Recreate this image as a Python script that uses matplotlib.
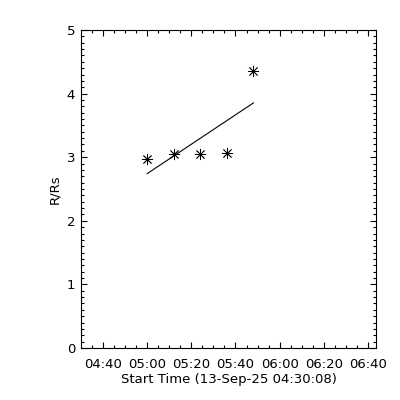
import datetime
import matplotlib
matplotlib.use('Agg')
import matplotlib.pyplot as plt
import matplotlib.dates as mdates
import numpy as np

# data
start = datetime.datetime(2025, 9, 13, 4, 30, 8)
times = ['05:00:08', '05:12:08', '05:24:08', '05:36:08', '05:48:08']
r_rs = [2.97, 3.05, 3.05, 3.07, 4.35]
x_end = '06:43:40'

def to_dt(s):
    hh, mm, ss = s.split(':')
    return start.replace(hour=int(hh), minute=int(mm), second=int(ss))

x = [to_dt(t) for t in times]
xn = mdates.date2num(x)

# linear fit like the original
p = np.polyfit(xn, r_rs, 1)
xfit = np.array([xn[0], xn[-1]])
yfit = np.polyval(p, xfit)

plt.rcParams['font.family'] = 'DejaVu Sans'

fig = plt.figure(figsize=(4, 4), dpi=100)
ax = fig.add_axes([0.202, 0.13, 0.739, 0.795])

ax.plot(x, r_rs, linestyle='none', marker=(8, 2, 0), markersize=8,
        color='black', markeredgewidth=0.6)
ax.plot(mdates.num2date(xfit), yfit, color='black', linewidth=0.8)

ax.set_xlim(start, to_dt(x_end))
ax.set_ylim(0, 5)

ax.xaxis.set_major_locator(mdates.MinuteLocator(byminute=[0, 20, 40]))
ax.xaxis.set_minor_locator(mdates.MinuteLocator(byminute=range(0, 60, 5)))
ax.xaxis.set_major_formatter(mdates.DateFormatter('%H:%M'))
ax.set_yticks(np.arange(0, 6, 1))
ax.set_yticks(np.arange(0, 5.01, 0.1), minor=True)

ax.tick_params(which='both', direction='in', top=True, right=True,
               width=0.8, labelsize=9.5)
ax.tick_params(which='major', length=4.5)
ax.tick_params(which='minor', length=2.2)
ax.tick_params(axis='x', pad=7)
ax.tick_params(axis='y', pad=4)

for axis in ['top', 'bottom', 'left', 'right']:
    ax.spines[axis].set_linewidth(0.8)

ax.set_xlabel('Start Time (13-Sep-25 04:30:08)', fontsize=9.5, labelpad=2)
ax.set_ylabel('R/Rs', fontsize=9.5, labelpad=4)

plt.savefig('out.png', dpi=100)
